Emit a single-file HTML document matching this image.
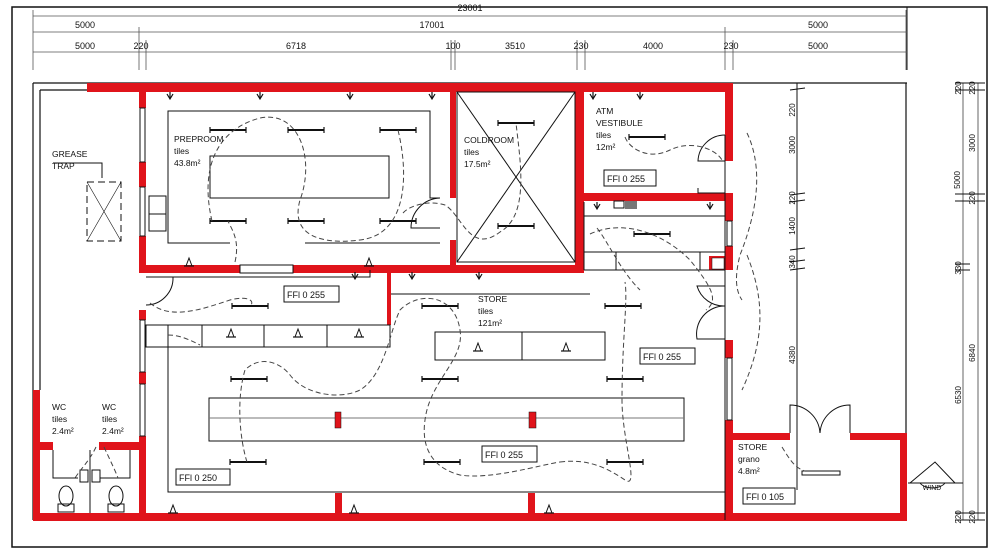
<!DOCTYPE html>
<html><head><meta charset="utf-8"><style>
html,body{margin:0;padding:0;background:#fff}
svg{display:block}
text{font-family:"Liberation Sans",sans-serif;fill:#111}
</style></head><body>
<svg width="1000" height="549" viewBox="0 0 1000 549" xmlns="http://www.w3.org/2000/svg">
<defs>
<g id="lt"><line x1="-18" y1="0" x2="18" y2="0" stroke="#111" stroke-width="2"/><line x1="-18" y1="-3" x2="-18" y2="3" stroke="#111" stroke-width="1.2"/><line x1="18" y1="-3" x2="18" y2="3" stroke="#111" stroke-width="1.2"/></g>
<g id="sk"><line x1="-5" y1="4" x2="5" y2="4" stroke="#111" stroke-width="1.2"/><path d="M-3 4 L0 -4 L3 4" fill="none" stroke="#111" stroke-width="1"/></g>
<g id="dn"><path d="M-3 0 L0 5 L3 0 M0 -2 V5" fill="none" stroke="#111" stroke-width="1.2"/></g>
</defs>
<!-- frame -->
<rect x="12" y="7" width="975" height="540" fill="none" stroke="#111" stroke-width="1.5"/>
<line x1="907" y1="7" x2="907" y2="70" stroke="#111"/>
<!-- dimension lines top -->
<g stroke="#555" stroke-width="0.8" fill="none">
<line x1="33" y1="16" x2="907" y2="16"/>
<line x1="33" y1="32" x2="907" y2="32"/>
<line x1="33" y1="52" x2="907" y2="52"/>
<line x1="33" y1="10" x2="33" y2="70"/>
<line x1="139" y1="27" x2="139" y2="70"/><line x1="146" y1="40" x2="146" y2="70"/>
<line x1="451" y1="40" x2="451" y2="70"/><line x1="455" y1="40" x2="455" y2="70"/>
<line x1="577" y1="40" x2="577" y2="70"/><line x1="585" y1="40" x2="585" y2="70"/>
<line x1="725" y1="27" x2="725" y2="70"/><line x1="733" y1="40" x2="733" y2="70"/>
<line x1="906" y1="10" x2="906" y2="70"/>
</g>
<g font-size="9" text-anchor="middle">
<text x="470" y="11">23001</text>
<text x="85" y="28">5000</text><text x="432" y="28">17001</text><text x="818" y="28">5000</text>
<text x="85" y="49">5000</text><text x="141" y="49">220</text><text x="296" y="49">6718</text>
<text x="453" y="49">100</text><text x="515" y="49">3510</text><text x="581" y="49">230</text>
<text x="653" y="49">4000</text><text x="731" y="49">230</text><text x="818" y="49">5000</text>
</g>
<!-- thin outline -->
<g stroke="#111" stroke-width="1.2" fill="none">
<line x1="33" y1="83" x2="907" y2="83"/>
<line x1="33" y1="83" x2="33" y2="520"/>
<line x1="40" y1="90" x2="40" y2="390"/>
<line x1="40" y1="90" x2="87" y2="90"/>
<line x1="906" y1="83" x2="906" y2="435"/>
</g>
<!-- red walls -->
<g fill="#e0141b">
<rect x="87" y="83" width="646" height="9"/>
<rect x="139" y="83" width="7" height="25"/>
<rect x="139" y="162" width="7" height="25"/>
<rect x="139" y="236" width="7" height="36"/>
<rect x="139" y="265" width="101" height="8"/>
<rect x="293" y="265" width="290" height="8"/>
<rect x="450" y="90" width="6" height="108"/>
<rect x="450" y="240" width="6" height="28"/>
<rect x="575" y="83" width="9" height="190"/>
<rect x="575" y="193" width="158" height="8"/>
<rect x="725" y="83" width="8" height="78"/>
<rect x="725" y="193" width="8" height="28"/>
<rect x="725" y="246" width="8" height="24"/>
<rect x="725" y="340" width="8" height="18"/>
<rect x="725" y="420" width="8" height="100"/>
<rect x="387" y="268" width="4" height="57"/>
<rect x="139" y="310" width="7" height="10"/>
<rect x="139" y="372" width="7" height="12"/>
<rect x="139" y="436" width="7" height="84"/>
<rect x="33" y="390" width="7" height="130"/>
<rect x="33" y="513" width="874" height="8"/>
<rect x="33" y="442" width="20" height="8"/>
<rect x="99" y="442" width="47" height="8"/>
<rect x="335" y="493" width="7" height="22"/>
<rect x="528" y="493" width="7" height="22"/>
<rect x="733" y="433" width="57" height="7"/>
<rect x="850" y="433" width="57" height="7"/>
<rect x="900" y="433" width="7" height="88"/>
<rect x="709" y="256" width="16" height="14"/>
</g>
<rect x="712" y="258" width="12" height="11" fill="#fff" stroke="#111" stroke-width="0.5"/>
<!-- windows -->
<g fill="#fff" stroke="#111" stroke-width="1">
<rect x="140" y="108" width="5" height="54"/>
<rect x="140" y="187" width="5" height="49"/>
<rect x="240" y="265" width="53" height="8"/>
<rect x="140" y="320" width="5" height="52"/>
<rect x="140" y="384" width="5" height="52"/>
<rect x="727" y="221" width="5" height="25"/>
<rect x="727" y="358" width="5" height="62"/>
</g>
<!-- interior grey/black lines -->
<g stroke="#111" stroke-width="1" fill="none">
<path d="M230 243 H168 V111 H430 V198 H440"/>
<path d="M305 243 H440"/>
<rect x="210" y="156" width="179" height="42"/>
<rect x="149" y="196" width="17" height="35"/>
<line x1="149" y1="214" x2="166" y2="214"/>
<rect x="457" y="92" width="118" height="170"/>
<line x1="457" y1="92" x2="575" y2="262"/>
<line x1="575" y1="92" x2="457" y2="262"/>
<path d="M146 277 H370 V270"/>
<rect x="146" y="325" width="244" height="22"/>
<line x1="168" y1="325" x2="168" y2="347"/><line x1="202" y1="325" x2="202" y2="347"/>
<line x1="264" y1="325" x2="264" y2="347"/><line x1="327" y1="325" x2="327" y2="347"/>
<path d="M168 347 V492 H725"/>
<line x1="391" y1="294" x2="590" y2="294"/>
<rect x="435" y="332" width="170" height="28"/>
<line x1="522" y1="332" x2="522" y2="360"/>
<rect x="209" y="398" width="475" height="43"/>
<line x1="209" y1="418" x2="684" y2="418" stroke="#777"/>
<line x1="584" y1="216" x2="725" y2="216"/>
<line x1="584" y1="252" x2="725" y2="252"/>
<line x1="584" y1="270" x2="725" y2="270"/>
<line x1="616" y1="252" x2="616" y2="270"/>
<line x1="700" y1="252" x2="700" y2="270"/>
<line x1="584" y1="202" x2="584" y2="270"/>
<line x1="725" y1="135" x2="725" y2="520"/>
<line x1="797" y1="83" x2="797" y2="490"/>
<line x1="963" y1="83" x2="963" y2="520" stroke="#666"/>
<line x1="978" y1="83" x2="978" y2="520" stroke="#666"/>
<line x1="908" y1="483" x2="963" y2="483"/>
<path d="M910 483 L935 462 L955 483" />
<path d="M920 483 A14 9 0 0 0 945 483"/>
<!-- toilets -->
<line x1="90" y1="450" x2="90" y2="513"/>
<path d="M53 450 V478 H78"/><path d="M130 450 V478 H100"/>
<ellipse cx="66" cy="496" rx="7" ry="10"/><rect x="58" y="504" width="16" height="8"/>
<ellipse cx="116" cy="496" rx="7" ry="10"/><rect x="108" y="504" width="16" height="8"/>
<rect x="80" y="470" width="8" height="12"/><rect x="92" y="470" width="8" height="12"/>
<!-- doors -->
<path d="M440 198 A30 30 0 0 0 411 228 H440"/>
<path d="M146 277 H173 A27 27 0 0 1 146 305"/>
<path d="M725 161 H698 A27 27 0 0 1 725 135"/>
<path d="M725 193 H698 V188"/>
<path d="M725 286 H697 A28 28 0 0 0 725 306"/>
<path d="M725 339 H697 A28 28 0 0 1 725 306"/>
<path d="M790 433 V405 A30 30 0 0 1 820 433"/>
<path d="M850 433 V405 A30 30 0 0 0 820 433"/>
<rect x="802" y="471" width="38" height="4"/>
<rect x="87" y="182" width="34" height="59" stroke-dasharray="7 4"/>
<line x1="87" y1="182" x2="121" y2="241" stroke-width="0.6"/>
<line x1="121" y1="182" x2="87" y2="241" stroke-width="0.6"/>
<path d="M53 163 H102 V178"/>
</g>
<!-- right dim ticks -->
<g stroke="#111" stroke-width="1">
<line x1="790" y1="90" x2="805" y2="88"/><line x1="790" y1="195" x2="805" y2="193"/>
<line x1="790" y1="202" x2="805" y2="200"/><line x1="790" y1="250" x2="805" y2="248"/>
<line x1="790" y1="262" x2="805" y2="260"/><line x1="790" y1="270" x2="805" y2="268"/>
<line x1="955" y1="83" x2="985" y2="83"/><line x1="955" y1="90" x2="985" y2="90"/>
<line x1="955" y1="194" x2="985" y2="194"/><line x1="955" y1="201" x2="985" y2="201"/>
<line x1="955" y1="264" x2="970" y2="264"/><line x1="955" y1="270" x2="970" y2="270"/>
<line x1="955" y1="513" x2="985" y2="513"/><line x1="955" y1="520" x2="985" y2="520"/>
</g>
<g font-size="8" text-anchor="middle">
<text transform="translate(795,110) rotate(-90)">220</text>
<text transform="translate(795,145) rotate(-90)">3000</text>
<text transform="translate(795,198) rotate(-90)">220</text>
<text transform="translate(795,226) rotate(-90)">1400</text>
<text transform="translate(795,262) rotate(-90)">340</text>
<text transform="translate(795,355) rotate(-90)">4380</text>
<text transform="translate(961,88) rotate(-90)">220</text>
<text transform="translate(975,88) rotate(-90)">220</text>
<text transform="translate(975,143) rotate(-90)">3000</text>
<text transform="translate(960,180) rotate(-90)">5000</text>
<text transform="translate(975,198) rotate(-90)">220</text>
<text transform="translate(961,268) rotate(-90)">330</text>
<text transform="translate(975,353) rotate(-90)">6840</text>
<text transform="translate(961,395) rotate(-90)">6530</text>
<text transform="translate(961,517) rotate(-90)">220</text>
<text transform="translate(975,517) rotate(-90)">220</text>
<text x="932" y="490" font-size="7">WIND</text>
</g>
<!-- lights -->
<g>
<use href="#lt" x="228" y="130"/><use href="#lt" x="306" y="130"/><use href="#lt" x="398" y="130"/>
<use href="#lt" x="228" y="221"/><use href="#lt" x="306" y="221"/><use href="#lt" x="398" y="221"/>
<use href="#lt" x="516" y="123"/><use href="#lt" x="516" y="226"/>
<use href="#lt" x="647" y="137"/><use href="#lt" x="652" y="234"/>
<use href="#lt" x="250" y="306"/><use href="#lt" x="249" y="379"/><use href="#lt" x="248" y="462"/>
<use href="#lt" x="440" y="306"/><use href="#lt" x="440" y="379"/><use href="#lt" x="442" y="462"/>
<use href="#lt" x="623" y="306"/><use href="#lt" x="625" y="379"/><use href="#lt" x="625" y="462"/>
<use href="#sk" x="231" y="333"/><use href="#sk" x="298" y="333"/><use href="#sk" x="359" y="333"/>
<use href="#sk" x="478" y="347"/><use href="#sk" x="566" y="347"/>
<use href="#sk" x="173" y="509"/><use href="#sk" x="354" y="509"/><use href="#sk" x="549" y="509"/>
<use href="#sk" x="189" y="262"/><use href="#sk" x="369" y="262"/>
<use href="#dn" x="170" y="94"/><use href="#dn" x="260" y="94"/><use href="#dn" x="350" y="94"/><use href="#dn" x="432" y="94"/>
<use href="#dn" x="593" y="94"/><use href="#dn" x="640" y="94"/>
<use href="#dn" x="597" y="204"/><use href="#dn" x="710" y="204"/>
<use href="#dn" x="355" y="274"/><use href="#dn" x="412" y="274"/><use href="#dn" x="479" y="274"/>
</g>
<rect x="614" y="201" width="10" height="7" fill="#fff" stroke="#111"/>
<rect x="625" y="201" width="12" height="8" fill="#777"/>
<!-- red markers -->
<rect x="335" y="412" width="6" height="16" fill="#e0141b" stroke="#111" stroke-width="0.5"/>
<rect x="529" y="412" width="7" height="16" fill="#e0141b" stroke="#111" stroke-width="0.5"/>
<rect x="99" y="442" width="0" height="0"/>
<!-- dashed circuits -->
<g stroke="#444" stroke-width="1" fill="none" stroke-dasharray="5 3">
<path d="M212 221 C200 170 215 130 260 118 C300 110 315 160 300 200 C290 235 320 245 360 240 C405 235 410 180 398 130"/>
<path d="M235 262 C240 240 232 230 228 221"/>
<path d="M403 213 C410 205 430 200 445 205 C462 215 470 255 500 232 C530 215 520 160 516 123"/>
<path d="M625 137 C630 150 650 160 670 150 C690 140 715 148 722 160"/>
<path d="M747 133 C760 160 762 200 740 255 C735 275 735 290 742 300"/>
<path d="M747 255 C765 300 765 340 742 390"/>
<path d="M590 234 C620 220 660 230 690 260 C710 285 720 300 706 310"/>
<path d="M150 303 C170 320 200 310 230 300 C250 295 255 302 250 306"/>
<path d="M168 335 C180 335 190 340 200 345"/>
<path d="M247 462 C240 440 236 400 245 370 C260 355 280 362 290 375 C305 395 340 400 360 390 C385 375 390 330 400 310 C420 290 455 295 460 330 C465 360 430 380 425 420 C420 455 440 470 460 475 C490 480 540 465 560 462"/>
<path d="M560 462 C590 458 610 470 625 480 C640 490 622 440 622 400 C622 340 628 300 625 282"/>
<path d="M597 228 C610 245 620 270 640 290"/>
<path d="M782 447 C790 460 795 468 805 471"/>
<path d="M96 447 C90 460 80 470 75 478"/>
<path d="M104 447 C110 460 115 470 118 478"/>
</g>
<!-- FFL boxes -->
<g fill="#fff" stroke="#111" stroke-width="1">
<rect x="284" y="286" width="55" height="16"/>
<rect x="176" y="469" width="54" height="16"/>
<rect x="482" y="446" width="55" height="16"/>
<rect x="640" y="348" width="55" height="16"/>
<rect x="604" y="170" width="52" height="16"/>
<rect x="743" y="488" width="52" height="16"/>
</g>
<g font-size="9">
<text x="287" y="298">FFl 0 255</text>
<text x="179" y="481">FFl 0 250</text>
<text x="485" y="458">FFl 0 255</text>
<text x="643" y="360">FFl 0 255</text>
<text x="607" y="182">FFl 0 255</text>
<text x="746" y="500">FFl 0 105</text>
</g>
<!-- room labels -->
<g font-size="8.5">
<text x="174" y="142">PREPROOM</text><text x="174" y="154">tiles</text><text x="174" y="166">43.8m²</text>
<text x="464" y="143">COLDROOM</text><text x="464" y="155">tiles</text><text x="464" y="167">17.5m²</text>
<text x="596" y="114">ATM</text><text x="596" y="126">VESTIBULE</text><text x="596" y="138">tiles</text><text x="596" y="150">12m²</text>
<text x="52" y="157">GREASE</text><text x="52" y="169">TRAP</text>
<text x="478" y="302">STORE</text><text x="478" y="314">tiles</text><text x="478" y="326">121m²</text>
<text x="738" y="450">STORE</text><text x="738" y="462">grano</text><text x="738" y="474">4.8m²</text>
<text x="52" y="410">WC</text><text x="52" y="422">tiles</text><text x="52" y="434">2.4m²</text>
<text x="102" y="410">WC</text><text x="102" y="422">tiles</text><text x="102" y="434">2.4m²</text>
</g>
</svg>
</body></html>
